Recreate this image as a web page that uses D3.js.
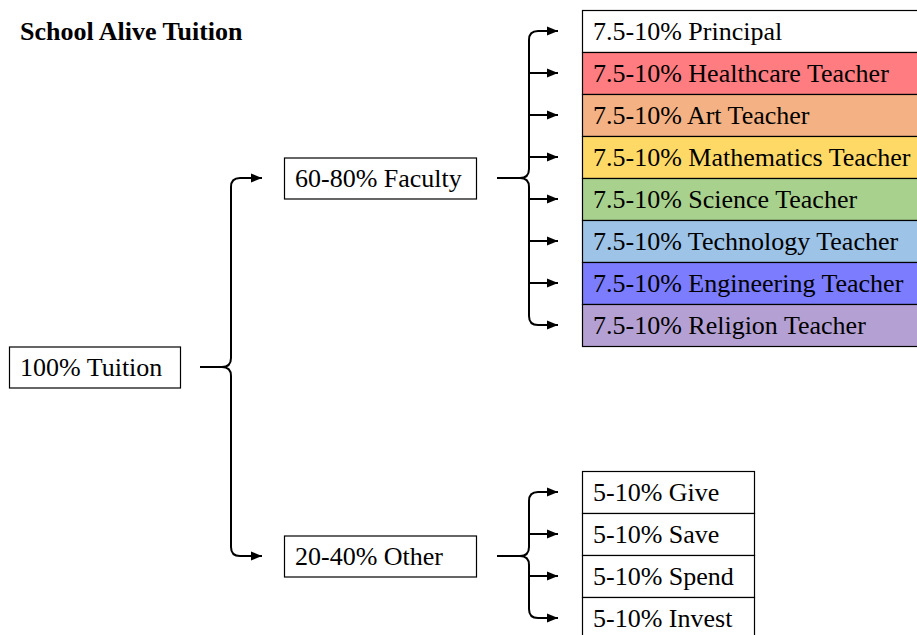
<!DOCTYPE html>
<html>
<head>
<meta charset="utf-8">
<script src="https://cdn.jsdelivr.net/npm/d3@7"></script>
<style>
  body { margin: 0; background: #fff; }
  svg text { font-family: "Liberation Serif", "Times New Roman", serif; }
</style>
</head>
<body>
<div id="chart"></div>
<script>
const width = 917, height = 635;

const title = "School Alive Tuition";
const rootLabel = "100% Tuition";
const groups = ["60-80% Faculty", "20-40% Other"];
const facultyRoles = [
  "7.5-10% Principal",
  "7.5-10% Healthcare Teacher",
  "7.5-10% Art Teacher",
  "7.5-10% Mathematics Teacher",
  "7.5-10% Science Teacher",
  "7.5-10% Technology Teacher",
  "7.5-10% Engineering Teacher",
  "7.5-10% Religion Teacher"
];
const facultyColors = ["#ffffff", "#ff7c80", "#f4b183", "#ffd966", "#a9d18e", "#9dc3e6", "#7c7cff", "#b4a0d2"];
const otherRoles = ["5-10% Give", "5-10% Save", "5-10% Spend", "5-10% Invest"];

const fontSize = 26;

let svg = d3.select("#chart")
  .append("svg")
  .attr("width", width)
  .attr("height", height);

svg.append("defs").append("marker")
  .attr("id", "arrow")
  .attr("viewBox", "0 0 10 10")
  .attr("refX", 10)
  .attr("refY", 5)
  .attr("markerWidth", 5.5)
  .attr("markerHeight", 5.5)
  .attr("markerUnits", "strokeWidth")
  .attr("orient", "auto")
  .append("path")
  .attr("d", "M0,1 L10,5 L0,9 Z")
  .attr("fill", "#000");

// column positions (level -> left edge)
let colX = d3.scaleOrdinal().domain([0, 1, 2]).range([9, 284, 582]);
let colW = d3.scaleOrdinal().domain([0, 1, 2]).range([171, 192, 172]);

// vertical scales
let groupY = d3.scalePoint().domain(groups).range([178, 556]);
let rootY = d3.mean(groups, (g) => groupY(g));
let facultyY = d3.scaleBand().domain(facultyRoles).range([10, 346]);
let otherY = d3.scaleBand().domain(otherRoles).range([471, 471 + 42 * otherRoles.length]);
let facultyFill = d3.scaleOrdinal().domain(facultyRoles).range(facultyColors);

svg.append("text")
  .attr("x", 20)
  .attr("y", 40)
  .attr("font-size", 26)
  .attr("font-weight", "bold")
  .text(title);

function box(x, yc, w, h, label, fill) {
  let g = svg.append("g");
  g.append("rect")
    .attr("x", x + 0.5)
    .attr("y", yc - h / 2 + 0.5)
    .attr("width", w)
    .attr("height", h)
    .attr("fill", fill || "#fff")
    .attr("stroke", "#000")
    .attr("stroke-width", 1.2);
  g.append("text")
    .attr("x", x + 11)
    .attr("y", yc + fontSize * 0.34)
    .attr("font-size", fontSize)
    .attr("fill", "#000")
    .text(label);
}

// brace: incoming line from startX to tip, vertical at bx, arrows out to endX at each y
function brace(startX, bx, endX, ym, ys) {
  let r = 9, tip = bx - 9;
  let y0 = d3.min(ys), y1 = d3.max(ys);
  let p = d3.path();
  p.moveTo(startX, ym);
  p.lineTo(tip, ym);
  svg.append("path").attr("d", p.toString())
    .attr("fill", "none").attr("stroke", "#000").attr("stroke-width", 2);

  let up = "M" + tip + "," + ym + " Q" + bx + "," + ym + " " + bx + "," + (ym - r) +
    " L" + bx + "," + (y0 + r) + " Q" + bx + "," + y0 + " " + (bx + r) + "," + y0 +
    " L" + endX + "," + y0;
  let down = "M" + tip + "," + ym + " Q" + bx + "," + ym + " " + bx + "," + (ym + r) +
    " L" + bx + "," + (y1 - r) + " Q" + bx + "," + y1 + " " + (bx + r) + "," + y1 +
    " L" + endX + "," + y1;
  [up, down].forEach((d) => {
    svg.append("path").attr("d", d)
      .attr("fill", "none").attr("stroke", "#000").attr("stroke-width", 2)
      .attr("marker-end", "url(#arrow)");
  });

  svg.selectAll(null)
    .data(ys.filter((y) => y !== y0 && y !== y1))
    .enter().append("line")
    .attr("x1", bx).attr("x2", endX)
    .attr("y1", (d) => d).attr("y2", (d) => d)
    .attr("stroke", "#000").attr("stroke-width", 2)
    .attr("marker-end", "url(#arrow)");
}

// root level
box(colX(0), rootY, colW(0), 41, rootLabel);
brace(colX(0) + colW(0) + 20, 231, colX(1) - 22, rootY, groups.map((g) => groupY(g)));

// group level
groups.forEach((g) => box(colX(1), groupY(g), colW(1), 41, g));

let facYs = facultyRoles.map((d) => facultyY(d) + facultyY.bandwidth() / 2);
let othYs = otherRoles.map((d) => otherY(d) + otherY.bandwidth() / 2);
brace(colX(1) + colW(1) + 21, 529, colX(2) - 24, groupY(groups[0]), facYs);
brace(colX(1) + colW(1) + 21, 529, colX(2) - 24, groupY(groups[1]), othYs);

// leaf level
facultyRoles.forEach((d) => box(colX(2), facultyY(d) + facultyY.bandwidth() / 2, 345, facultyY.bandwidth(), d, facultyFill(d)));
otherRoles.forEach((d) => box(colX(2), otherY(d) + otherY.bandwidth() / 2, colW(2), otherY.bandwidth(), d));
</script>
</body>
</html>
